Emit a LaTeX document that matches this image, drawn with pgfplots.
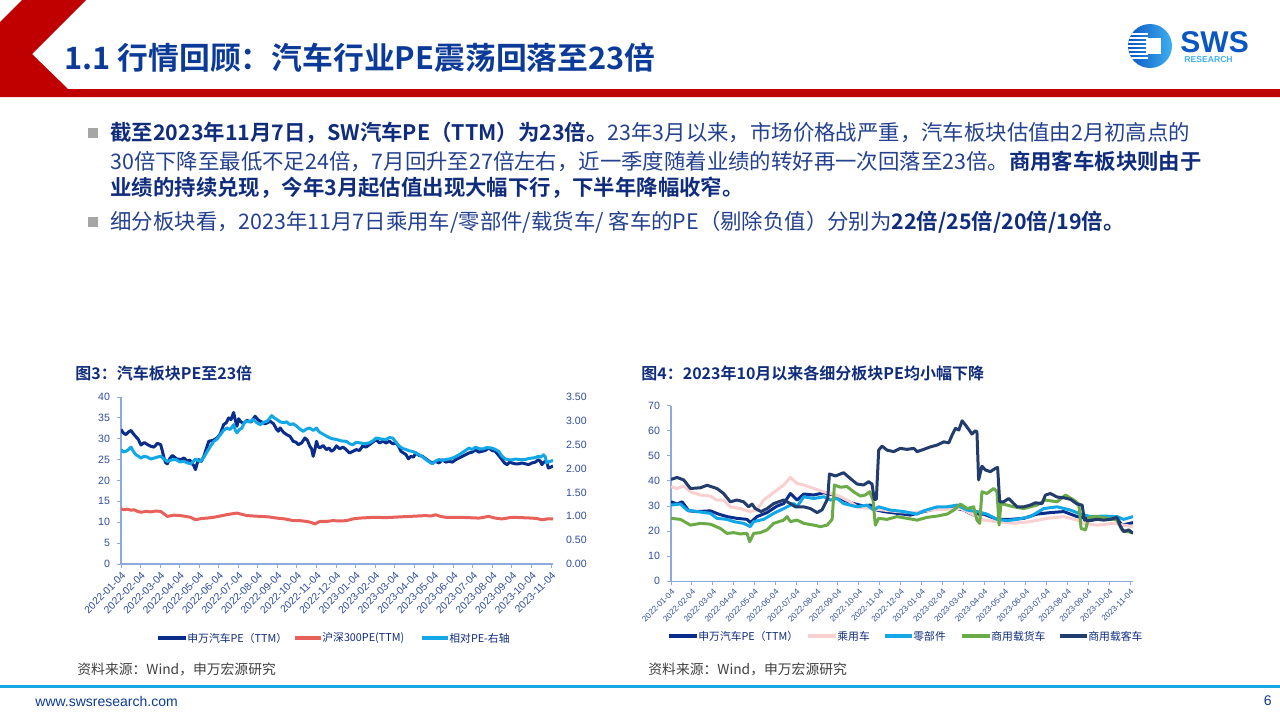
\documentclass[border=0pt]{standalone}
\usepackage{pgfplots}
\pgfplotsset{compat=1.18}
\usepackage{fontspec}
\setmainfont{Liberation Sans}
\newfontfamily\cjk{Noto Sans CJK SC}[BoldFont={Noto Sans CJK SC Bold}]
\definecolor{hred}{HTML}{C00000}
\definecolor{ttl}{HTML}{0B3A99}
\definecolor{txt}{HTML}{24418F}
\definecolor{txtb}{HTML}{102C7C}
\definecolor{bul}{HTML}{A6A6A6}
\definecolor{axc}{HTML}{8EA9DB}
\definecolor{tkc}{HTML}{2F4DA0}
\definecolor{cdark}{HTML}{0A2D8C}
\definecolor{cred}{HTML}{E8605A}
\definecolor{clb}{HTML}{12A8E8}
\definecolor{cpink}{HTML}{F9D0D0}
\definecolor{cgreen}{HTML}{6AAB47}
\definecolor{cnavy}{HTML}{233C6E}
\definecolor{srcc}{HTML}{404040}
\definecolor{foot}{HTML}{1AA6E2}
\definecolor{logoa}{HTML}{0A56C2}
\definecolor{logob}{HTML}{3FB0F0}

\pgfplotsset{
  sws/.style={
    scale only axis, enlargelimits=false,
    axis x line=bottom, axis y line=left,
    axis line style={-, draw=axc, line width=0.6bp},
    every tick/.style={draw=axc, line width=0.5bp},
    tick align=outside, major tick length=2bp,
    xtick={0,...,22},
    xticklabels={2022-01-04,2022-02-04,2022-03-04,2022-04-04,2022-05-04,2022-06-04,2022-07-04,2022-08-04,2022-09-04,2022-10-04,2022-11-04,2022-12-04,2023-01-04,2023-02-04,2023-03-04,2023-04-04,2023-05-04,2023-06-04,2023-07-04,2023-08-04,2023-09-04,2023-10-04,2023-11-04},
    ymin=0,
    /pgf/number format/assume math mode=true,
    tick label style={text=tkc},
    y tick label style={font=\fontsize{5.3bp}{6bp}\selectfont},
    x tick label style={rotate=45, anchor=north east, inner sep=1bp},
    every axis plot/.append style={line width=1.5bp, line join=round, no markers},
  }
}

\pgfplotstableread{
x y
0.00 32.2
0.12 31.4
0.25 31.0
0.38 31.6
0.51 32.0
0.63 31.2
0.76 30.5
0.89 29.8
1.02 28.5
1.19 29.1
1.36 28.6
1.52 28.2
1.69 28.0
1.86 28.9
2.03 28.6
2.12 27.0
2.20 25.4
2.28 24.3
2.37 24.0
2.50 25.3
2.63 26.0
2.84 25.2
3.05 25.0
3.22 25.4
3.39 24.6
3.52 24.9
3.64 24.0
3.72 23.6
3.81 22.6
3.90 24.2
3.98 25.0
4.11 24.6
4.24 25.8
4.36 27.6
4.49 29.4
4.70 29.6
4.92 30.2
5.08 31.2
5.25 33.4
5.38 33.8
5.51 35.0
5.63 34.6
5.76 36.3
5.85 34.4
5.93 33.0
6.02 34.8
6.10 34.2
6.27 33.6
6.44 34.4
6.65 34.0
6.86 35.4
7.00 34.6
7.12 34.2
7.38 33.6
7.63 34.2
7.80 33.6
7.97 32.2
8.05 31.8
8.14 32.6
8.30 31.6
8.47 31.0
8.64 30.6
8.81 29.4
8.94 29.2
9.07 28.6
9.24 29.0
9.41 30.2
9.54 29.6
9.66 28.2
9.75 27.6
9.83 25.8
9.92 27.4
10.00 29.4
10.08 28.2
10.17 27.8
10.34 28.4
10.51 27.4
10.64 27.8
10.76 27.0
10.89 27.4
11.02 28.3
11.19 27.6
11.36 28.0
11.52 27.4
11.69 26.6
11.86 27.0
12.03 27.4
12.20 27.2
12.37 28.3
12.54 28.0
12.71 28.6
12.88 29.2
13.05 29.8
13.22 29.0
13.39 29.4
13.56 29.0
13.73 29.4
13.90 28.8
14.07 29.0
14.20 28.2
14.32 27.0
14.45 26.6
14.58 26.2
14.70 25.2
14.83 25.8
14.96 25.6
15.08 26.6
15.25 26.0
15.42 25.8
15.59 25.2
15.76 24.6
15.93 24.2
16.10 24.6
16.27 24.2
16.44 25.0
16.61 24.4
16.78 24.6
16.95 24.4
17.12 25.0
17.29 25.4
17.46 25.8
17.63 26.2
17.80 26.6
17.97 26.8
18.14 27.4
18.30 26.8
18.47 27.0
18.64 27.2
18.81 27.8
18.98 27.2
19.15 27.0
19.32 26.0
19.49 25.0
19.62 24.2
19.75 23.8
19.88 24.4
20.00 24.2
20.17 24.0
20.34 24.0
20.51 24.2
20.68 24.0
20.85 23.8
21.02 24.2
21.19 24.4
21.36 25.0
21.45 24.6
21.53 23.8
21.63 24.4
21.73 24.6
21.80 24.2
21.86 23.0
21.98 23.2
22.10 23.5
}\swpe

\pgfplotstableread{
x y
0.00 13.2
0.17 13.0
0.34 13.1
0.51 12.9
0.68 13.0
0.85 12.6
1.02 12.4
1.27 12.6
1.52 12.5
1.78 12.7
2.03 12.6
2.20 12.0
2.37 11.4
2.71 11.7
3.05 11.6
3.30 11.4
3.56 11.2
3.68 10.9
3.81 10.6
4.11 10.9
4.41 11.0
4.75 11.2
5.08 11.5
5.50 11.9
5.93 12.2
6.18 11.9
6.44 11.6
6.78 11.5
7.12 11.4
7.55 11.3
7.97 11.0
8.39 10.8
8.81 10.4
9.15 10.4
9.49 10.2
9.70 10.0
9.92 9.6
10.05 9.9
10.17 10.2
10.51 10.2
10.85 10.4
11.19 10.3
11.53 10.4
11.86 10.8
12.20 11.0
12.62 11.1
13.05 11.2
13.47 11.1
13.90 11.2
14.32 11.3
14.75 11.4
15.17 11.5
15.59 11.6
15.85 11.5
16.10 11.8
16.35 11.4
16.61 11.2
16.95 11.2
17.29 11.2
17.80 11.1
18.31 11.0
18.56 11.2
18.81 11.4
19.15 11.0
19.49 10.8
19.75 11.0
20.00 11.2
20.51 11.1
21.02 11.0
21.27 10.9
21.53 10.6
21.80 10.8
22.10 10.8
}\hspe

\pgfplotstableread{
x y
0.00 2.40
0.12 2.35
0.25 2.36
0.38 2.40
0.51 2.45
0.63 2.36
0.76 2.29
0.89 2.26
1.02 2.22
1.19 2.26
1.36 2.24
1.52 2.20
1.69 2.22
1.86 2.24
2.03 2.26
2.20 2.20
2.37 2.15
2.58 2.18
2.80 2.19
3.01 2.14
3.22 2.15
3.39 2.12
3.56 2.10
3.68 2.14
3.81 2.20
3.94 2.17
4.07 2.15
4.24 2.24
4.41 2.36
4.58 2.47
4.75 2.57
4.92 2.62
5.08 2.71
5.25 2.80
5.42 2.85
5.59 2.82
5.76 2.92
5.85 2.80
5.93 2.75
6.06 2.82
6.19 2.85
6.28 2.94
6.36 2.99
6.57 2.98
6.78 3.03
6.95 2.96
7.12 2.92
7.29 2.97
7.46 2.99
7.58 3.04
7.71 3.11
7.84 3.06
7.97 3.03
8.14 2.98
8.31 2.96
8.48 2.98
8.64 2.92
8.81 2.94
8.98 2.89
9.15 2.83
9.32 2.78
9.49 2.83
9.66 2.85
9.83 2.80
10.00 2.85
10.08 2.80
10.17 2.76
10.34 2.72
10.51 2.68
10.76 2.63
11.02 2.61
11.28 2.58
11.53 2.57
11.70 2.52
11.86 2.50
12.03 2.55
12.20 2.54
12.45 2.52
12.71 2.54
12.88 2.58
13.05 2.64
13.30 2.62
13.56 2.61
13.73 2.65
13.90 2.64
14.07 2.55
14.24 2.47
14.41 2.42
14.58 2.40
14.75 2.37
14.92 2.36
15.08 2.33
15.25 2.29
15.42 2.25
15.59 2.19
15.76 2.14
15.93 2.10
16.10 2.16
16.27 2.19
16.44 2.17
16.61 2.19
16.78 2.20
16.95 2.22
17.12 2.25
17.29 2.29
17.55 2.36
17.80 2.43
17.97 2.40
18.14 2.45
18.30 2.42
18.47 2.41
18.72 2.44
18.98 2.43
19.15 2.40
19.32 2.36
19.49 2.26
19.66 2.20
19.92 2.18
20.17 2.20
20.42 2.19
20.68 2.19
20.85 2.21
21.02 2.22
21.19 2.23
21.36 2.26
21.48 2.24
21.61 2.29
21.70 2.25
21.78 2.12
21.86 2.14
21.95 2.15
22.10 2.17
}\relpe

\pgfplotstableread{
x y
0.00 31.7
0.29 30.8
0.53 31.7
0.85 28.1
1.25 27.8
1.88 28.1
2.28 26.8
2.68 25.8
3.16 25.1
3.64 24.7
3.80 23.4
4.12 25.8
4.60 27.4
5.08 30.0
5.40 31.0
5.72 35.0
6.04 32.4
6.36 34.8
6.84 34.4
7.32 35.3
7.80 34.4
8.27 32.4
8.75 31.0
9.23 30.0
9.55 30.4
9.87 28.4
10.19 27.8
10.83 27.1
11.47 26.4
12.11 27.8
12.75 29.0
13.39 29.7
14.03 28.4
14.50 26.4
14.98 26.8
15.62 24.7
16.26 24.7
16.90 25.1
17.54 26.8
18.18 27.4
18.82 27.8
19.46 25.8
20.10 24.7
20.73 24.7
21.37 25.1
21.61 22.4
22.14 23.4
}\swb

\pgfplotstableread{
x y
0.00 37.7
0.29 37.0
0.61 38.0
0.93 35.7
1.41 34.4
1.88 34.0
2.20 32.4
2.52 32.4
2.84 29.7
3.32 29.0
3.80 27.8
4.12 28.5
4.44 32.4
4.76 34.4
5.08 36.4
5.40 38.4
5.72 41.4
6.04 39.0
6.36 38.4
6.84 37.0
7.32 35.7
7.64 35.0
7.88 34.4
8.12 33.7
8.59 31.7
8.91 29.7
9.55 29.0
10.19 28.4
10.83 27.8
11.63 27.4
12.43 28.4
13.23 28.7
13.87 29.0
14.19 27.8
14.66 25.8
14.98 24.4
15.62 23.8
16.42 23.1
17.22 23.8
18.02 25.1
18.82 25.8
19.46 24.4
19.78 23.1
20.42 22.4
21.21 23.1
21.69 22.4
22.14 21.8
}\pcar

\pgfplotstableread{
x y
0.00 30.4
0.45 30.8
0.77 28.4
1.25 27.8
1.88 27.1
2.20 25.1
2.68 24.7
3.00 23.8
3.48 23.1
3.80 21.8
3.96 23.8
4.44 24.7
4.92 27.1
5.40 29.0
5.88 31.0
6.04 29.7
6.36 33.7
6.84 33.0
7.32 33.7
7.64 32.4
7.96 33.0
8.27 31.0
8.91 29.7
9.39 30.4
9.71 28.4
9.95 29.7
10.51 28.4
11.15 27.8
11.79 26.8
12.11 28.1
12.75 29.7
13.23 29.7
13.71 30.4
14.19 28.4
14.66 27.8
15.14 26.8
15.62 24.7
16.10 24.2
16.58 24.7
17.22 25.8
17.86 29.0
18.50 29.7
19.14 28.4
19.62 26.8
20.10 25.8
20.73 26.0
21.37 25.8
21.69 24.7
22.14 25.8
}\parts

\pgfplotstableread{
x y
0.00 25.1
0.45 24.7
0.93 22.4
1.41 23.1
1.88 22.8
2.36 21.1
2.68 19.1
3.00 19.4
3.32 18.9
3.64 19.1
3.77 15.8
3.96 19.1
4.28 19.4
4.60 20.5
4.92 23.1
5.40 24.4
5.56 25.8
5.72 23.8
6.04 24.4
6.36 23.1
6.84 22.4
7.16 21.8
7.48 22.4
7.72 24.7
7.83 38.4
8.12 37.5
8.43 37.8
8.75 35.7
9.07 34.0
9.31 34.4
9.52 35.7
9.68 32.4
9.79 22.4
9.95 25.1
10.35 24.7
10.83 25.8
11.31 25.1
11.79 24.4
12.27 25.5
12.75 26.0
13.23 26.8
13.55 28.4
13.87 30.8
14.19 29.0
14.50 29.7
14.66 24.4
14.79 23.1
14.90 35.7
15.14 35.0
15.46 37.0
15.62 35.7
15.72 22.4
15.81 31.0
16.10 30.4
16.42 29.7
16.90 29.0
17.22 29.7
17.54 30.4
17.94 32.4
18.50 31.7
18.90 34.4
19.30 32.4
19.54 30.8
19.65 21.1
19.86 20.5
20.02 25.5
20.42 25.8
20.89 25.1
21.37 24.4
21.61 20.5
21.85 19.8
22.14 19.4
}\truck

\pgfplotstableread{
x y
0.00 40.6
0.29 41.4
0.61 40.4
0.93 37.0
1.41 37.3
1.73 38.3
2.20 37.0
2.52 35.0
2.84 31.7
3.16 32.4
3.48 31.7
3.72 29.7
3.88 30.8
4.04 29.0
4.31 27.8
4.60 29.0
4.92 31.0
5.40 32.4
5.72 31.0
5.96 29.7
6.36 29.7
6.68 29.0
7.00 27.4
7.24 28.5
7.51 33.0
7.59 42.8
7.88 42.0
8.27 43.3
8.59 41.0
8.91 38.8
9.23 38.4
9.47 39.7
9.63 38.8
9.74 32.7
9.84 32.7
9.95 52.3
10.11 53.9
10.35 52.3
10.67 51.7
10.99 53.0
11.31 52.6
11.63 53.0
11.79 51.7
12.11 52.6
12.43 53.6
12.75 54.3
13.07 55.6
13.31 55.2
13.47 58.3
13.63 61.0
13.79 60.3
13.95 64.0
14.11 62.3
14.27 60.5
14.42 58.7
14.58 60.0
14.66 59.6
14.74 40.4
14.90 45.9
15.06 44.4
15.30 43.7
15.54 45.0
15.65 45.4
15.75 31.7
15.94 31.7
16.18 33.0
16.42 31.0
16.58 29.7
16.90 29.7
17.22 30.4
17.46 31.3
17.78 31.0
17.94 34.4
18.18 35.0
18.50 33.6
18.82 33.3
19.14 32.7
19.46 30.8
19.70 30.4
19.81 24.4
20.10 24.2
20.42 24.7
20.73 24.4
21.05 24.7
21.37 25.5
21.53 22.0
21.69 19.8
21.93 20.5
22.14 19.1
}\bus

\newcommand\B[1]{\textcolor{txtb}{\bfseries #1}}
\begin{document}
\begin{tikzpicture}[x=0.5bp,y=-0.5bp]
\path[use as bounding box] (0,0) rectangle (1280,720);
% header
\fill[hred] (22,0) -- (86,0) -- (32,54) -- (68,89) -- (1280,89) -- (1280,97) -- (0,97) -- (0,22) -- cycle;
\node[anchor=west, text=ttl, inner sep=0] at (64,58) {\cjk\bfseries\fontsize{15.4bp}{17bp}\selectfont 1.1 行情回顾：汽车行业PE震荡回落至23倍};
% logo
\begin{scope}
\clip (1150,46) circle (22);
\shade[left color=logoa, right color=logob] (1128,24) rectangle (1172,68);
\foreach \yy in {33,37,41,45,49,53,57}{\fill[white] (1128,\yy) rectangle (1148,\yy+1.6);}
\fill[white] (1146,38) rectangle (1161,54);
\end{scope}
\node[anchor=west, inner sep=0, text=logoa] at (1180,42) {\bfseries\fontsize{15bp}{15bp}\selectfont SWS};
\node[anchor=west, inner sep=0, text=logob] at (1184,60) {\bfseries\fontsize{4.3bp}{5bp}\selectfont RESEARCH};
% bullets
\fill[bul] (88,128) rectangle (98,138);
\fill[bul] (88,217) rectangle (98,227);
\begin{scope}[every node/.style={anchor=west, inner sep=0, text=txt, font=\cjk\fontsize{10.7bp}{12bp}\selectfont}]
\node at (110,133) {\B{截至2023年11月7日，SW汽车PE（TTM）为23倍。}23年3月以来，市场价格战严重，汽车板块估值由2月初高点的};
\node at (110,161) {30倍下降至最低不足24倍，7月回升至27倍左右，近一季度随着业绩的转好再一次回落至23倍。\B{商用客车板块则由于}};
\node at (110,188) {\B{业绩的持续兑现，今年3月起估值出现大幅下行，下半年降幅收窄。}};
\node at (110,222) {细分板块看，2023年11月7日乘用车/零部件/载货车/ 客车的PE（剔除负值）分别为\B{22倍/25倍/20倍/19倍。}};
\end{scope}
% chart titles
\node[anchor=west, inner sep=0, text=txtb] at (75,373) {\cjk\bfseries\fontsize{8bp}{9bp}\selectfont 图3：汽车板块PE至23倍};
\node[anchor=west, inner sep=0, text=txtb] at (641,373) {\cjk\bfseries\fontsize{8bp}{9bp}\selectfont 图4：2023年10月以来各细分板块PE均小幅下降};

% chart 1
\begin{axis}[sws, name=c1, at={(60.5bp,-282bp)}, anchor=south west, width=216bp, height=83.5bp,
  xmin=0, xmax=22.1, ymax=40, ytick={0,5,...,40},
  x tick label style={font=\fontsize{5.2bp}{6bp}\selectfont}]
\addplot[cdark] table {\swpe};
\addplot[cred] table {\hspe};
\end{axis}
\begin{axis}[scale only axis, enlargelimits=false, at={(60.5bp,-282bp)}, anchor=south west, width=216bp, height=83.5bp,
  xmin=0, xmax=22.1, ymin=0, ymax=3.5, axis x line=none, axis y line*=right,
  axis line style={draw=none}, major tick length=0pt,
  ytick={0,0.5,1,1.5,2,2.5,3,3.5},
  /pgf/number format/fixed, /pgf/number format/fixed zerofill,
  /pgf/number format/precision=2, /pgf/number format/assume math mode=true,
  y tick label style={font=\fontsize{5.3bp}{6bp}\selectfont, text=tkc, xshift=3bp},
  every axis plot/.append style={line width=1.5bp, line join=round, no markers}]
\addplot[clb] table {\relpe};
\end{axis}

% chart 2
\begin{axis}[sws, at={(335.5bp,-290.65bp)}, anchor=south west, width=231bp, height=87.8bp,
  xmin=0, xmax=22.14, ymax=70, ytick={0,10,...,70},
  x tick label style={font=\fontsize{4.1bp}{5bp}\selectfont}]
\addplot[cdark] table {\swb};
\addplot[cpink] table {\pcar};
\addplot[clb] table {\parts};
\addplot[cgreen] table {\truck};
\addplot[cnavy] table {\bus};
\end{axis}

% legends
\begin{scope}[every node/.style={anchor=west, inner sep=0, text=txtb, font=\cjk\fontsize{5.4bp}{6bp}\selectfont}]
\draw[cdark, line width=1.6bp] (158,638) -- (186,638); \node at (187,638) {申万汽车PE（TTM）};
\draw[cred, line width=1.6bp] (295,638) -- (321,638); \node at (322,638) {沪深300PE(TTM)};
\draw[clb, line width=1.6bp] (422,638) -- (448,638); \node at (449,638) {相对PE-右轴};
\draw[cdark, line width=1.6bp] (669,636) -- (697,636); \node at (698,636) {申万汽车PE（TTM）};
\draw[cpink, line width=1.6bp] (808,636) -- (836,636); \node at (837,636) {乘用车};
\draw[clb, line width=1.6bp] (885,636) -- (912,636); \node at (913,636) {零部件};
\draw[cgreen, line width=1.6bp] (962,636) -- (990,636); \node at (991,636) {商用载货车};
\draw[cnavy, line width=1.6bp] (1060,636) -- (1087,636); \node at (1088,636) {商用载客车};
\end{scope}
% sources
\node[anchor=west, inner sep=0, text=srcc] at (77,669) {\cjk\fontsize{6.9bp}{8bp}\selectfont 资料来源：Wind，申万宏源研究};
\node[anchor=west, inner sep=0, text=srcc] at (648,669) {\cjk\fontsize{6.9bp}{8bp}\selectfont 资料来源：Wind，申万宏源研究};
% footer
\fill[foot] (0,685) rectangle (1280,688);
\node[anchor=west, inner sep=0, text=ttl] at (35,701) {\fontsize{7bp}{8bp}\selectfont www.swsresearch.com};
\node[anchor=east, inner sep=0, text=ttl] at (1272,701) {\fontsize{7bp}{8bp}\selectfont 6};
\end{tikzpicture}
\end{document}
